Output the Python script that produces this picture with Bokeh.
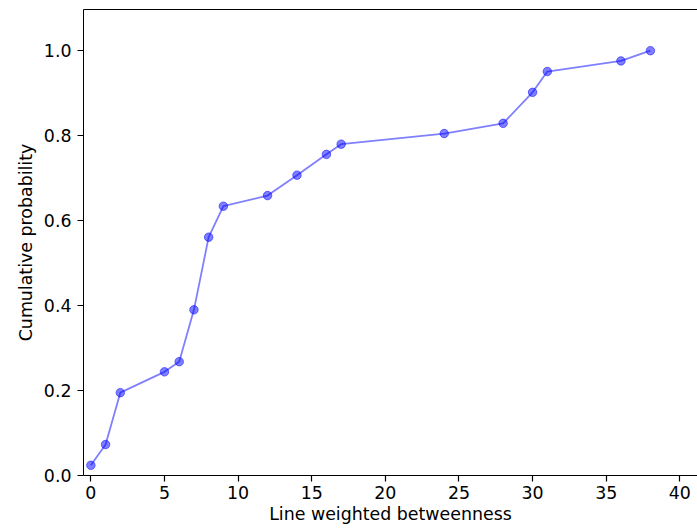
from bokeh.plotting import figure
from bokeh.models import FixedTicker, PrintfTickFormatter, LinearAxis, Range1d
from bokeh.embed import file_html
from bokeh.resources import INLINE

betweenness = [0, 1, 2, 5, 6, 7, 8, 9, 12, 14, 16, 17, 24, 28, 30, 31, 36, 38]
cum_prob = [0.024, 0.073, 0.195, 0.244, 0.268, 0.390, 0.561, 0.634, 0.659, 0.707,
            0.756, 0.780, 0.805, 0.829, 0.902, 0.951, 0.976, 1.000]
x_ticks = [0, 5, 10, 15, 20, 25, 30, 35, 40]
y_ticks = [0.0, 0.2, 0.4, 0.6, 0.8, 1.0]

FONT = "DejaVu Sans"
FS = "17.4px"
p = figure(width=697, height=528, output_backend="svg", toolbar_location=None,
           x_range=Range1d(-0.5, 41.2), y_range=Range1d(0, 1.097),
           min_border_left=83, min_border_right=0, min_border_top=9, min_border_bottom=53)
p.outline_line_color = None
p.background_fill_color = "white"
p.border_fill_color = "white"
p.xgrid.visible = False
p.ygrid.visible = False

p.line(betweenness, cum_prob, line_color="#0000ff", line_alpha=0.5, line_width=1.8)
p.scatter(betweenness, cum_prob, size=8.5, fill_color="#0000ff", fill_alpha=0.5,
          line_color="#0000ff", line_alpha=0.5, line_width=1)

for ax in (p.xaxis[0], p.yaxis[0]):
    ax.major_tick_in = 0
    ax.major_tick_out = 6
    ax.major_tick_line_width = 1.2
    ax.minor_tick_line_color = None
    ax.axis_line_color = "black"
    ax.major_tick_line_color = "black"
    ax.major_label_text_font = FONT
    ax.major_label_text_font_size = FS
    ax.major_label_text_color = "black"
    ax.axis_label_text_font = FONT
    ax.axis_label_text_font_size = FS
    ax.axis_label_text_font_style = "normal"
    ax.axis_label_text_color = "black"

p.xaxis.ticker = FixedTicker(ticks=x_ticks)
p.yaxis.ticker = FixedTicker(ticks=y_ticks)
p.yaxis.formatter = PrintfTickFormatter(format="%.1f")
p.xaxis.axis_label = "Line weighted betweenness"
p.yaxis.axis_label = "Cumulative probability"
p.xaxis.major_label_standoff = 4
p.yaxis.major_label_standoff = 6
p.xaxis.axis_label_standoff = 2
p.yaxis.axis_label_standoff = 5

top = LinearAxis(major_tick_line_color=None, minor_tick_line_color=None,
                 major_label_text_font_size="0px", axis_line_color="black",
                 major_label_standoff=0, ticker=FixedTicker(ticks=[]))
p.add_layout(top, "above")

open("out.html", "w").write(file_html(p, INLINE))
